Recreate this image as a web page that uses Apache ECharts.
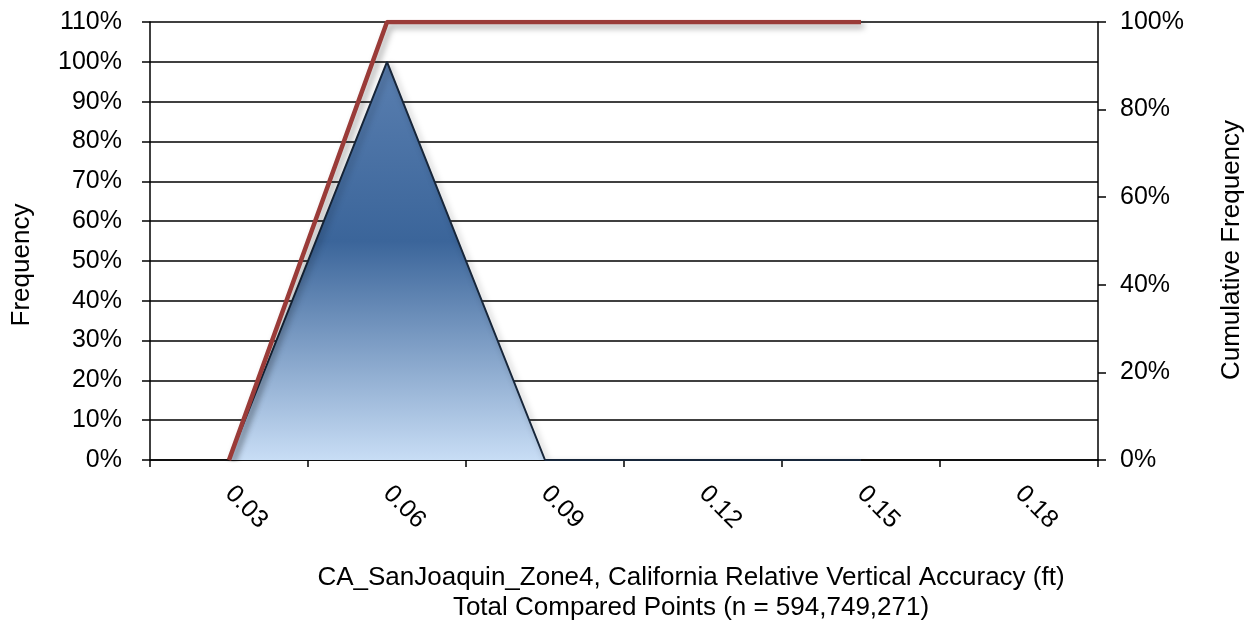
<!DOCTYPE html>
<html><head><meta charset="utf-8">
<script src="https://cdn.jsdelivr.net/npm/echarts@6/dist/echarts.min.js"></script>
<style>html,body{margin:0;padding:0;background:#fff}#c{width:1252px;height:622px}</style>
</head><body><div id="c"></div>
<script>
const categories = ['0.03','0.06','0.09','0.12','0.15','0.18'];
const frequency = [0, 100, 0, 0, 0, null];
const cumulative = [0, 100, 100, 100, 100, null];
const leftTicks = {min:0, max:110, interval:10};
const rightTicks = {min:0, max:100, interval:20};
const xTitle1 = 'CA_SanJoaquin_Zone4, California Relative Vertical Accuracy (ft)';
const xTitle2 = 'Total Compared Points (n = 594,749,271)';
const yTitleLeft = 'Frequency';
const yTitleRight = 'Cumulative Frequency';

const F = 'Liberation Sans, Arial, sans-serif';
const chart = echarts.init(document.getElementById('c'));
chart.setOption({
  animation:false,
  textStyle:{fontFamily:F},
  grid:{left:150, right:154, top:22, bottom:162},
  xAxis:{type:'category', data:categories, boundaryGap:true,
    axisLine:{lineStyle:{color:'#000', width:1.5}},
    axisTick:{show:true, length:7, lineStyle:{color:'#000', width:1.5}},
    axisLabel:{rotate:-45, margin:30, color:'#000', fontSize:25, fontFamily:F}},
  yAxis:[
    {type:'value', min:leftTicks.min, max:leftTicks.max, interval:leftTicks.interval,
     axisLine:{show:true, lineStyle:{color:'#000', width:1.5}},
     axisTick:{show:true, length:8, lineStyle:{color:'#000', width:1.5}},
     axisLabel:{formatter:'{value}%', color:'#000', fontSize:25, margin:28, fontFamily:F},
     splitLine:{show:true, lineStyle:{color:'#000', width:1.5}}},
    {type:'value', min:rightTicks.min, max:rightTicks.max, interval:rightTicks.interval, position:'right',
     axisLine:{show:true, lineStyle:{color:'#000', width:1.5}},
     axisTick:{show:true, length:8, lineStyle:{color:'#000', width:1.5}},
     axisLabel:{formatter:'{value}%', color:'#000', fontSize:25, margin:22, fontFamily:F},
     splitLine:{show:false}}
  ],
  series:[
    {name:'Frequency', type:'line', yAxisIndex:0, data:frequency, symbol:'none',
     lineStyle:{color:'#17263a', width:2, shadowColor:'rgba(0,0,0,0.35)', shadowBlur:6, shadowOffsetX:3, shadowOffsetY:3},
     areaStyle:{opacity:1, color:new echarts.graphic.LinearGradient(0,0,0,1,[
       {offset:0, color:'#5a7fb0'},{offset:0.45, color:'#3b659a'},{offset:1, color:'#c8ddf5'}])},
     z:2},
    {name:'Cumulative', type:'line', yAxisIndex:1, data:cumulative, symbol:'none',
     lineStyle:{color:'#9a3b38', width:4.5, shadowColor:'rgba(0,0,0,0.35)', shadowBlur:6, shadowOffsetX:3, shadowOffsetY:4},
     z:3}
  ],
  graphic:[
    {type:'text', x:691, y:578, style:{text:xTitle1, font:'26px '+F, fill:'#000', textAlign:'center', textVerticalAlign:'middle'}},
    {type:'text', x:691, y:608, style:{text:xTitle2, font:'26px '+F, fill:'#000', textAlign:'center', textVerticalAlign:'middle'}},
    {type:'text', x:22, y:265, rotation:Math.PI/2, style:{text:yTitleLeft, font:'26px '+F, fill:'#000', textAlign:'center', textVerticalAlign:'middle'}},
    {type:'text', x:1232, y:250, rotation:Math.PI/2, style:{text:yTitleRight, font:'26px '+F, fill:'#000', textAlign:'center', textVerticalAlign:'middle'}}
  ]
});
</script></body></html>
